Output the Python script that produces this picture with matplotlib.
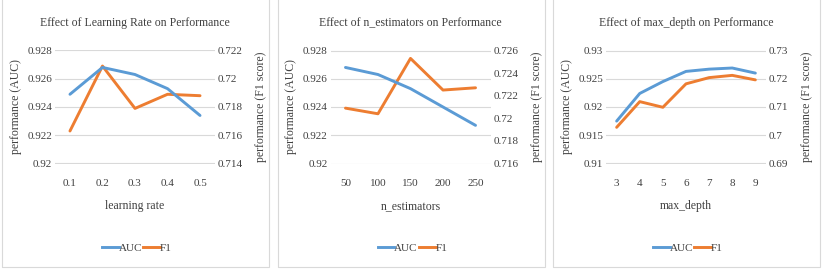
import matplotlib
matplotlib.use('Agg')
import matplotlib.pyplot as plt
from matplotlib.patches import Rectangle
from matplotlib.lines import Line2D

# Times-like font, as in the Excel charts
plt.rcParams['font.family'] = ['Liberation Serif', 'DejaVu Serif']

# data: learning rate
lr_labels = ['0.1', '0.2', '0.3', '0.4', '0.5']
lr_auc = [0.9249, 0.9268, 0.9263, 0.9253, 0.9234]
lr_f1 = [0.7163, 0.7209, 0.7179, 0.7189, 0.7188]

# data: n_estimators
ne_labels = ['50', '100', '150', '200', '250']
ne_auc = [0.9268, 0.9263, 0.9253, 0.9240, 0.9227]
ne_f1 = [0.7209, 0.7204, 0.7253, 0.7225, 0.7227]

# data: max_depth
md_labels = ['3', '4', '5', '6', '7', '8', '9']
md_auc = [0.9175, 0.9224, 0.9245, 0.9263, 0.9267, 0.9269, 0.9260]
md_f1 = [0.7028, 0.7119, 0.7099, 0.7182, 0.7204, 0.7212, 0.7196]

panels = [
    ('Effect of Learning Rate on Performance', 'learning rate', lr_labels, lr_auc, lr_f1,
     (0.920, 0.928, 0.002), (0.714, 0.722, 0.002)),
    ('Effect of n_estimators on Performance', 'n_estimators', ne_labels, ne_auc, ne_f1,
     (0.920, 0.928, 0.002), (0.716, 0.726, 0.002)),
    ('Effect of max_depth on Performance', 'max_depth', md_labels, md_auc, md_f1,
     (0.910, 0.930, 0.005), (0.690, 0.730, 0.010)),
]

BLUE = '#5B9BD5'
ORANGE = '#ED7D31'
GRID = '#D9D9D9'
TEXT = '#404040'

W, H = 825, 272
fig = plt.figure(figsize=(W / 100, H / 100), dpi=100)


def fmt(v):
    return f'{round(v, 4):g}'


def ticks(lo, hi, step):
    n = int(round((hi - lo) / step))
    return [lo + i * step for i in range(n + 1)]


for i, (title, xlabel, cats, auc, f1, lim_l, lim_r) in enumerate(panels):
    off = i * 275.5

    # panel border (Excel chart box)
    fig.add_artist(Rectangle(((off + 2) / W, (H - 267) / H), 267 / W, 280 / H,
                             transform=fig.transFigure, fill=False,
                             edgecolor='#D9D9D9', linewidth=0.8))

    ax = fig.add_axes([(off + 55) / W, (H - 163.5) / H, 160 / W, 113 / H])
    ax2 = ax.twinx()
    x = list(range(len(cats)))

    ax.plot(x, auc, color=BLUE, linewidth=2.1, solid_capstyle='round', zorder=3)
    ax2.plot(x, f1, color=ORANGE, linewidth=2.1, solid_capstyle='round', zorder=3)

    lt = ticks(*lim_l)
    rt = ticks(*lim_r)
    ax.set_ylim(lim_l[0], lim_l[1])
    ax2.set_ylim(lim_r[0], lim_r[1])
    ax.set_yticks(lt)
    ax.set_yticklabels([fmt(v) for v in lt])
    ax2.set_yticks(rt)
    ax2.set_yticklabels([fmt(v) for v in rt])

    ax.set_xlim(-0.46, len(cats) - 0.54)
    ax.set_xticks(x)
    ax.set_xticklabels(cats)

    # gridlines follow the left (AUC) axis
    for v in lt:
        ax2.axhline(ax2.get_ylim()[0] + (v - lim_l[0]) / (lim_l[1] - lim_l[0])
                    * (lim_r[1] - lim_r[0]), color=GRID, linewidth=0.8, zorder=0)

    for a in (ax, ax2):
        for s in a.spines.values():
            s.set_visible(False)
        a.tick_params(length=0, labelsize=8, colors=TEXT)
    ax.tick_params(axis='y', pad=2)
    ax2.tick_params(axis='y', pad=2)
    ax.tick_params(axis='x', pad=11)
    ax.patch.set_visible(False)
    ax.set_zorder(ax2.get_zorder() + 1)

    ax.set_ylabel('performance (AUC)', fontsize=8.5, color=TEXT, labelpad=4)
    ax2.set_ylabel('performance (F1 score)', fontsize=8.5, color=TEXT, labelpad=9)
    ax.set_xlabel(xlabel, fontsize=8.5, color=TEXT, labelpad=9)

    fig.text((off + 135) / W, 1 - 23 / H, title, ha='center', va='center',
             fontsize=8.5, color=TEXT)

    handles = [Line2D([], [], color=BLUE, linewidth=2.1),
               Line2D([], [], color=ORANGE, linewidth=2.1)]
    fig.legend(handles, ['AUC', 'F1'], loc='center',
               bbox_to_anchor=((off + 137) / W, 1 - 248 / H), ncol=2, frameon=False,
               fontsize=8, handlelength=1.5, handletextpad=0.0, columnspacing=0.1,
               labelcolor=TEXT)

fig.savefig('out.png', dpi=100)
